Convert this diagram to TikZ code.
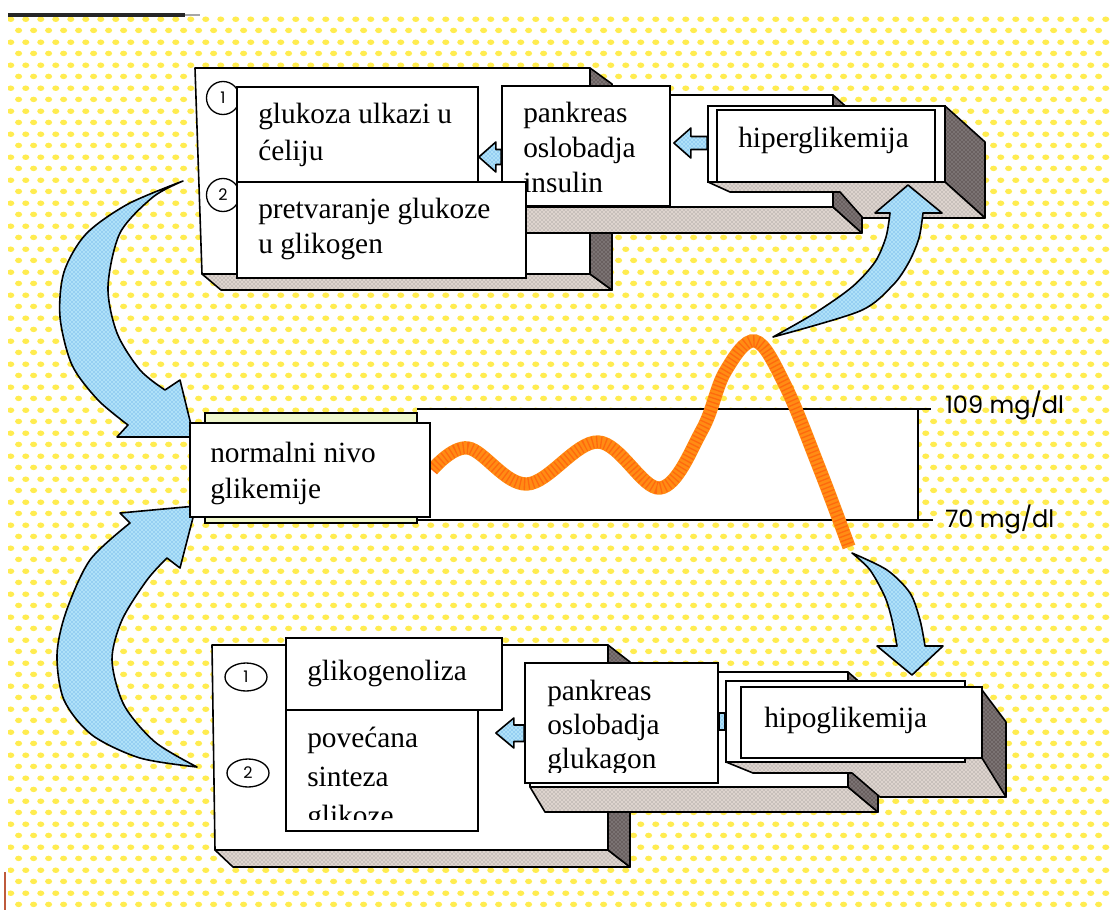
\documentclass[tikz,border=0pt]{standalone}
\usepackage{fontspec}
\setmainfont{Liberation Serif}
\newfontfamily\lblfont{Poppins}
\usetikzlibrary{patterns,fit,calc,shapes.geometric}

\pgfdeclarepatternformonly{ydots}{\pgfqpoint{0pt}{0pt}}{\pgfqpoint{11pt}{17pt}}{\pgfqpoint{11pt}{17pt}}{%
  \pgfpathellipse{\pgfqpoint{2.75pt}{4.25pt}}{\pgfqpoint{2.7pt}{0pt}}{\pgfqpoint{0pt}{2.1pt}}%
  \pgfpathellipse{\pgfqpoint{8.25pt}{12.75pt}}{\pgfqpoint{2.7pt}{0pt}}{\pgfqpoint{0pt}{2.1pt}}%
  \pgfusepath{fill}}

\definecolor{dotyel}{RGB}{255,236,80}
\definecolor{arrblue}{RGB}{175,225,248}
\definecolor{arrdot}{RGB}{70,150,225}
\definecolor{darkside}{RGB}{105,95,95}
\definecolor{lightside}{RGB}{222,212,206}
\definecolor{curveor}{RGB}{255,140,20}
\definecolor{panelgreen}{RGB}{240,248,205}
\definecolor{edgered}{RGB}{190,90,60}

\tikzset{
  txtbox/.style={draw=black, line width=1.3pt, fill=white, inner sep=0pt},
  face/.style={draw=black, line width=1.2pt, fill=white, line join=round},
  darkface/.style={draw=black, line width=1.2pt, preaction={fill=darkside}, pattern=crosshatch dots, pattern color=white!55!darkside, line join=round},
  lightface/.style={draw=black, line width=1.2pt, preaction={fill=lightside}, pattern=crosshatch dots, pattern color=black!50, line join=round},
  bluearrow/.style={draw=black, line width=1.2pt, preaction={fill=arrblue}, pattern=crosshatch dots, pattern color=arrdot, line join=round},
  txt/.style={anchor=base west, align=left, inner sep=0pt, font=\fontsize{22}{27}\selectfont},
  numc/.style={draw=black, line width=1pt, ellipse, inner sep=0pt, font=\lblfont\fontsize{12}{12}\selectfont},
  lbl/.style={anchor=base west, inner sep=0pt, font=\lblfont\fontsize{18}{18}\selectfont}
}

\begin{document}
\begin{tikzpicture}[x=0.75pt,y=-0.75pt]
\useasboundingbox (0,0) rectangle (1110,910);
% background
\fill[white] (0,0) rectangle (1110,910);
\fill[pattern=ydots, pattern color=dotyel] (8,15) rectangle (1110,910);
\draw[line width=2.4pt, black!85] (8,15) -- (185,15);
\draw[line width=2pt, black!35] (185,15) -- (200,15);
\draw[line width=1.5pt, edgered] (5,872) -- (5,910);

% ================= TOP BLOCK =================
% back slab A
\path[lightface] (202,274) -- (590,274) -- (612,290) -- (221,290) -- cycle;
\path[darkface] (590,68) -- (612,84) -- (612,290) -- (590,274) -- cycle;
\path[face] (195,68) -- (590,68) -- (590,274) -- (202,274) -- cycle;
% middle slab B
\path[lightface] (510,207) -- (833,207) -- (862,233) -- (527,233) -- cycle;
\path[darkface] (833,95) -- (862,121) -- (862,233) -- (833,207) -- cycle;
\path[face] (510,95) rectangle (833,207);
% front slab C (hiperglikemija)
\path[darkface] (945,106) -- (985,142) -- (985,218) -- (945,182) -- cycle;
\path[lightface] (708,182) -- (945,182) -- (985,218) -- (863,218) -- (840,192) -- (730,192) -- cycle;
\node[txtbox, fit={(708,106) (945,182)}] (hipback) {};
\node[txtbox, fit={(717,110) (935,182)}] (hiper) {};
\node[txt] (hipert) at (738,147) {hiperglikemija};

% pankreas (insulin)
\node[txtbox, fit={(502,86) (670,206)}] (pank) {};
\node[txt, font=\fontsize{22}{26}\selectfont] (pankt) at (523,192) {pankreas\\oslobadja\\insulin};
\path (pank.east |- 0,143) coordinate (a2tip) (hipback.west |- 0,143) coordinate (a2tail);
\path[bluearrow] ($(a2tip)+(3,0)$) -- ++(17,-15) -- ++(0,8.5) -- ($(a2tail)+(0,-6.5)$) -- ($(a2tail)+(0,6.5)$) -- ($(a2tip)+(20,6.5)$) -- ++(0,8.5) -- cycle;

% numbered circles
\node[numc, minimum width=24.75pt, minimum height=24.75pt] (c1) at (223,98) {1};
\node[numc, minimum width=24.75pt, minimum height=24.75pt] (c2) at (223,195) {2};

% glukoza boxes
\node[txtbox, fit={(237,87) (478,182)}] (g1) {};
\node[txt, font=\fontsize{22}{27.75}\selectfont] (g1t) at (258,160) {glukoza ulkazi u\\ćeliju};
\node[txtbox, fit={(237,182) (526,278)}] (g2) {};
\node[txt, font=\fontsize{22}{26.25}\selectfont] (g2t) at (258,253) {pretvaranje glukoze\\u glikogen};
\path (g1.east |- 0,157) coordinate (a1tip) (pank.west |- 0,157) coordinate (a1tail);
\path[bluearrow] (a1tip) -- ++(17,-15) -- ++(0,7.5) -- ($(a1tail)+(0,-7.5)$) -- ($(a1tail)+(0,7.5)$) -- ($(a1tip)+(17,7.5)$) -- ++(0,7.5) -- cycle;

% ================= BOTTOM BLOCK =================
\path[lightface] (215,850) -- (608,850) -- (630,867) -- (233,867) -- cycle;
\path[darkface] (608,645) -- (630,662) -- (630,867) -- (608,850) -- cycle;
\path[face] (212,645) -- (608,645) -- (608,850) -- (215,850) -- cycle;
\path[lightface] (530,787) -- (848,787) -- (878,812) -- (545,812) -- cycle;
\path[darkface] (848,672) -- (878,698) -- (878,812) -- (848,787) -- cycle;
\path[face] (530,672) rectangle (848,787);
\path[darkface] (982,690) -- (1006,722) -- (1006,797) -- (982,760) -- cycle;
\path[lightface] (726,762) -- (982,758) -- (1006,797) -- (880,797) -- (852,773) -- (753,773) -- cycle;
\node[txtbox, fit={(726,681) (965,762)}] (hipoback) {};
\node[txtbox, fit={(741,687) (982,758)}] (hipo) {};
\node[txt] (hipot) at (764,727) {hipoglikemija};

\node[txtbox, fit={(525,663) (718,783)}] (pank2) {};
\begin{scope}
\clip (526,664) rectangle (717,772);
\node[txt, font=\fontsize{22}{25.5}\selectfont] (pank2t) at (547,768) {pankreas\\oslobadja\\glukagon};
\end{scope}
\path[bluearrow] (pank2.east |- 0,713) rectangle (hipoback.west |- 0,730);

\node[numc, minimum width=31.5pt, minimum height=21pt] (c3) at (246,677) {1};
\node[numc, minimum width=31.5pt, minimum height=21pt] (c4) at (248,773) {2};

\node[txtbox, fit={(286,638) (502,710)}] (glg) {};
\node[txt] (glgt) at (307,680) {glikogenoliza};
\node[txtbox, fit={(286,710) (478,831)}] (pov) {};
\begin{scope}
\clip (287,711) rectangle (477,819);
\node[txt, font=\fontsize{22}{28.9}\selectfont] (povt) at (307,825) {povećana\\sinteza\\glikoze};
\end{scope}
\path ($(pov.east |- 0,733)+(17,0)$) coordinate (a3tip) (pank2.west |- 0,733) coordinate (a3tail);
\path[bluearrow] (a3tip) -- ++(18,-15) -- ++(0,7) -- ($(a3tail)+(0,-8)$) -- ($(a3tail)+(0,8.5)$) -- ($(a3tip)+(18,8.5)$) -- ++(0,6.5) -- cycle;

% ================= MIDDLE BAND =================
\fill[white] (417,409) rectangle (918,520);
\draw[line width=1.3pt] (417,409) -- (931,409);
\draw[line width=1.3pt] (417,520) -- (933,520);
\draw[line width=1.3pt] (918,409) -- (918,520);
\node[draw=black, line width=1.2pt, fill=panelgreen, inner sep=0pt, fit={(205,413) (417,523)}] (nback) {};

% fat curved arrows
\path[bluearrow] plot[smooth] coordinates {(183,181) (128,204) (86,234) (64,272) (60,317) (72,365) (98,400) (128,425)}
  -- (117,437) -- (194,437) -- (180,380)
  -- plot[smooth] coordinates {(165,390) (140,370) (117,333) (108,287) (120,233) (153,197) (183,181)} -- cycle;
\path[bluearrow] plot[smooth] coordinates {(197,767) (140,758) (92,735) (64,700) (57,655) (66,612) (90,560) (130,523)}
  -- (120,513) -- (196,506) -- (180,568)
  -- plot[smooth] coordinates {(167,558) (147,580) (122,620) (112,660) (124,705) (155,742) (197,767)} -- cycle;

% glucose curve
\draw[curveor, line width=10pt] plot[smooth, tension=0.6] coordinates {(432,470) (468,448) (527,484) (598,442) (660,488) (702,430) (725,372) (755,341) (785,385) (820,470) (849,547)};
\draw[red!80!orange, line width=9pt, dash pattern=on 1pt off 2.2pt, opacity=0.3] plot[smooth, tension=0.6] coordinates {(432,470) (468,448) (527,484) (598,442) (660,488) (702,430) (725,372) (755,341) (785,385) (820,470) (849,547)};

\node[txtbox, fit={(190,423) (430,517)}] (normal) {};
\node[txt, font=\fontsize{22}{27}\selectfont] (normalt) at (210,498) {normalni nivo\\glikemije};

\node[lbl] (l109) at (945,413) {109 mg/dl};
\node[lbl] (l70) at (945,527) {70 mg/dl};

% arrows to hiper / hipo
\path[bluearrow] plot[smooth] coordinates {(773,337) (815,313) (852,287) (875,262) (886,237) (890,213)}
  -- (875,213) -- (908,185) -- (942,213) -- (923,213)
  -- plot[smooth] coordinates {(923,213) (919,238) (909,262) (893,285) (860,311) (773,337)} -- cycle;
\path[bluearrow] plot[smooth] coordinates {(852,553) (870,570) (885,597) (892,620) (897,646)}
  -- (877,646) -- (912,675) -- (943,646) -- (925,646)
  -- plot[smooth] coordinates {(925,646) (920,620) (910,593) (887,570) (852,553)} -- cycle;
\end{tikzpicture}
\end{document}
